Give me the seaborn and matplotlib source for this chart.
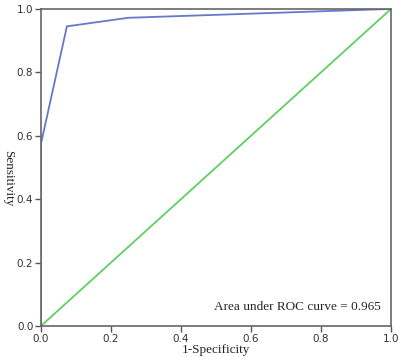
import matplotlib
matplotlib.use("Agg")
import matplotlib.pyplot as plt
import seaborn as sns
import pandas as pd

# ROC curve points
fpr = [0.0, 0.0, 0.074, 0.249, 1.0]
tpr = [0.0, 0.575, 0.945, 0.972, 1.0]
ref_x = [0.0, 1.0]
ref_y = [0.0, 1.0]
auc_text = "Area under ROC curve = 0.965"

sns.set_style("white")

fig = plt.figure(figsize=(4.0, 3.57), dpi=100)
ax = fig.add_axes([0.1025, 0.087, 0.875, 0.888])

roc = pd.DataFrame({"fpr": fpr, "tpr": tpr})
diag = pd.DataFrame({"x": ref_x, "y": ref_y})
sns.lineplot(data=diag, x="x", y="y", ax=ax, color="#5fcf62", linewidth=1.3,
             sort=False, estimator=None)
sns.lineplot(data=roc, x="fpr", y="tpr", ax=ax, color="#6678c8", linewidth=1.3,
             sort=False, estimator=None)

ax.set_xlim(0, 1)
ax.set_ylim(0, 1)
ax.set_xticks([0, 0.2, 0.4, 0.6, 0.8, 1.0])
ax.set_yticks([0, 0.2, 0.4, 0.6, 0.8, 1.0])
ax.set_xticklabels([f"{v:.1f}" for v in ax.get_xticks()])
ax.set_yticklabels([f"{v:.1f}" for v in ax.get_yticks()])
ax.tick_params(axis="both", direction="out", length=4, width=1, color="#555555",
               labelsize=7.5, labelcolor="#333333", pad=1.5, left=True, bottom=True)

for s in ax.spines.values():
    s.set_color("#666666")
    s.set_linewidth(1.2)

ax.set_xlabel("1-Specificity", family="Liberation Serif", fontsize=9.5, labelpad=0)
ax.set_ylabel("Sensitivity", family="Liberation Serif", fontsize=9.5, rotation=-90,
              va="center", ha="center")
ax.yaxis.set_label_coords(-0.093, 0.465)

ax.text(0.97, 0.05, auc_text, family="Liberation Serif", fontsize=9.5,
        ha="right", va="baseline", transform=ax.transAxes)

fig.savefig("out.png", dpi=100)
